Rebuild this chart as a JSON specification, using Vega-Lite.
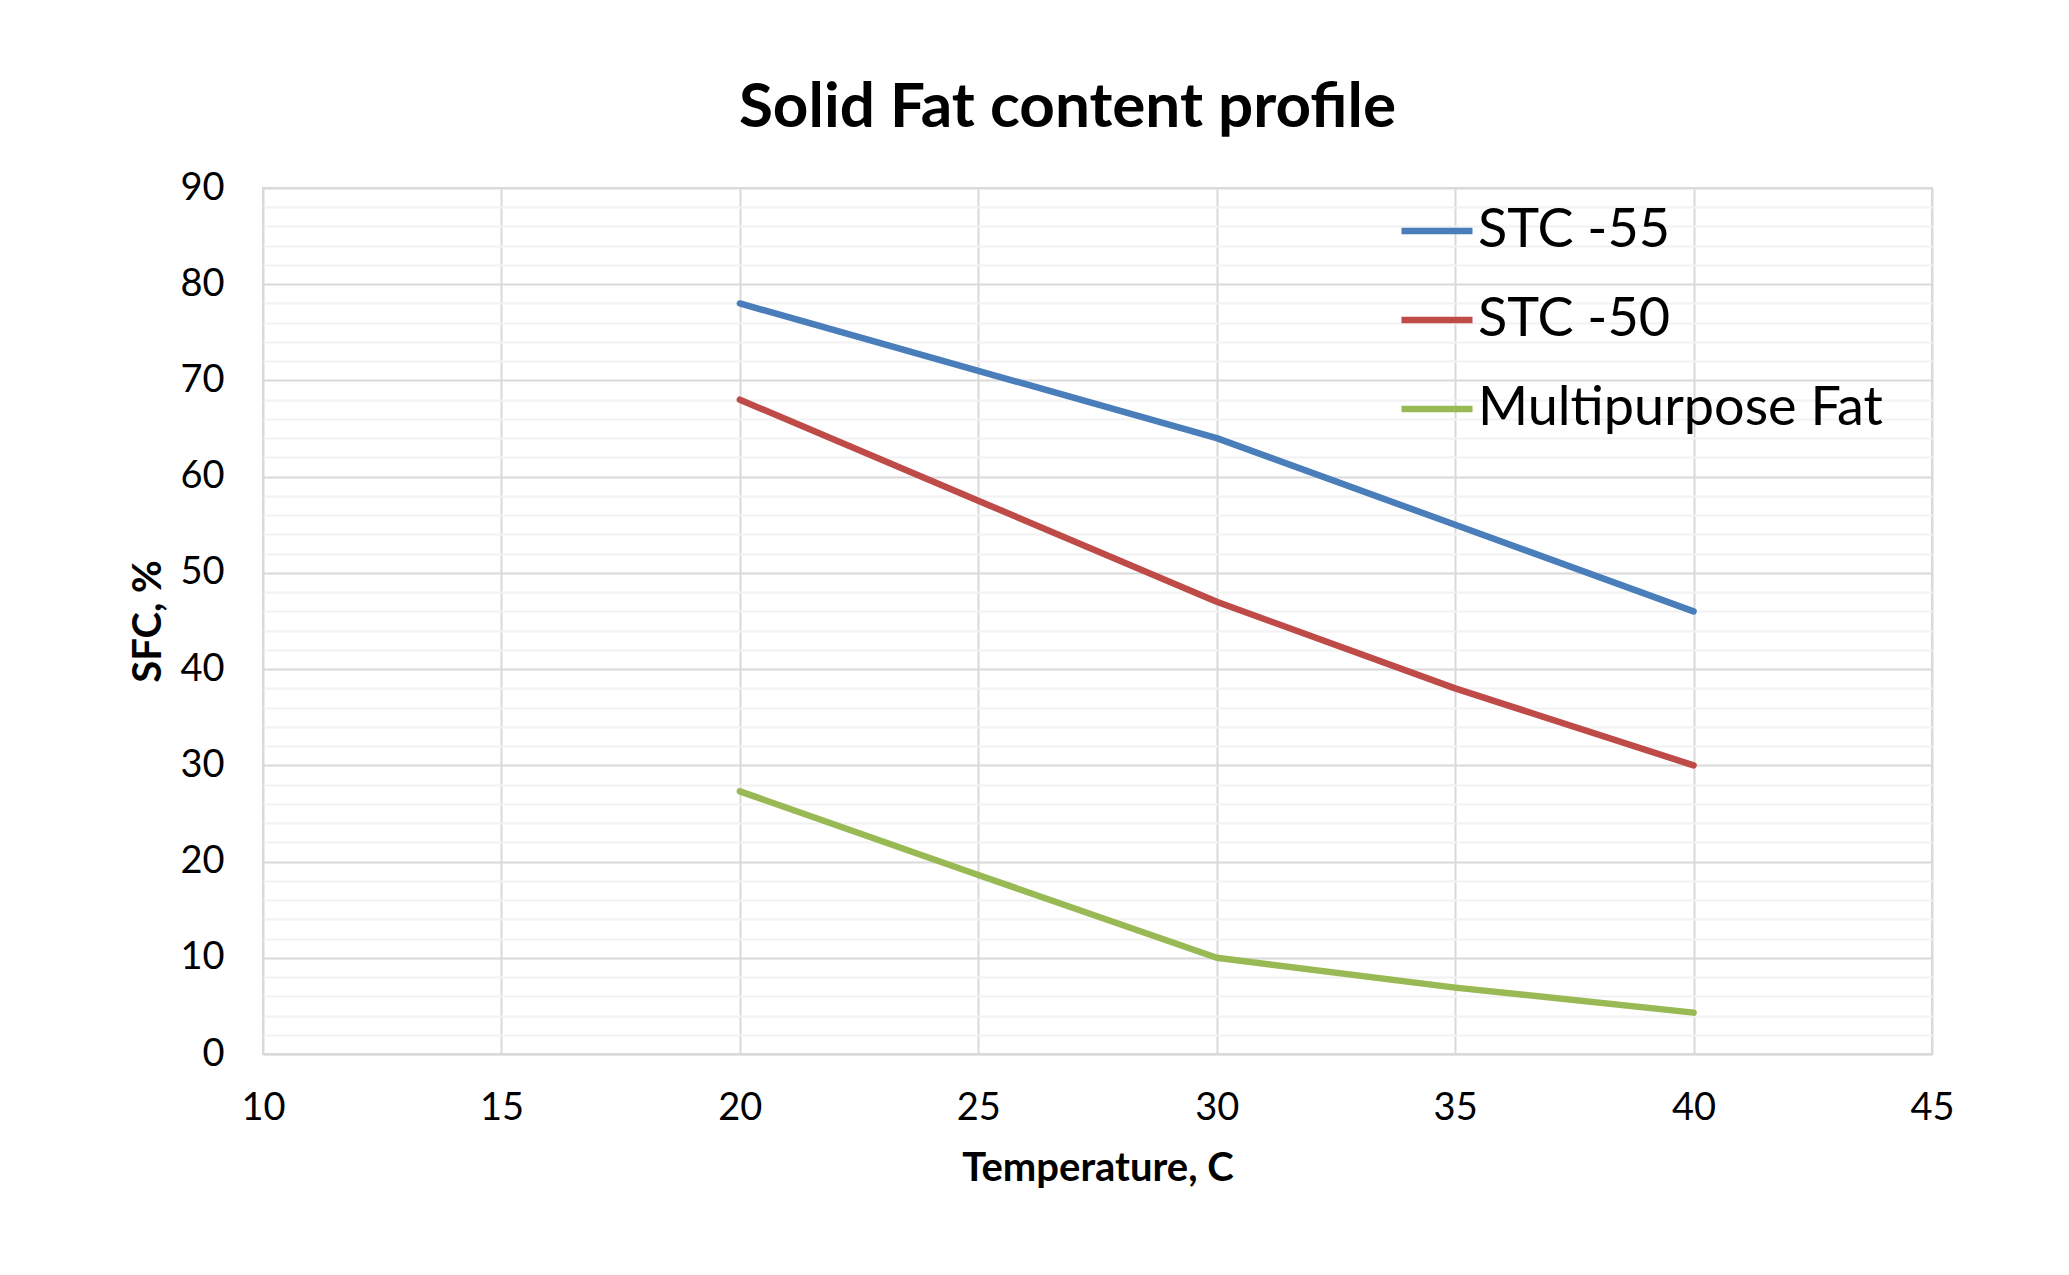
{
  "$schema": "https://vega.github.io/schema/vega-lite/v6.json",
  "autosize": {"type": "none"},
  "padding": {"left": 263, "top": 188, "right": 137, "bottom": 221},
  "width": 1669,
  "height": 866,
  "background": "white",
  "title": {
    "text": "Solid Fat content profile",
    "font": "Lato",
    "fontSize": 62,
    "fontWeight": "bold",
    "color": "#000000",
    "anchor": "middle",
    "dx": -30,
    "offset": 29
  },
  "data": {
    "values": [
      {"temp": 20, "sfc": 78, "series": "STC -55"},
      {"temp": 25, "sfc": 71, "series": "STC -55"},
      {"temp": 30, "sfc": 64, "series": "STC -55"},
      {"temp": 35, "sfc": 55, "series": "STC -55"},
      {"temp": 40, "sfc": 46, "series": "STC -55"},
      {"temp": 20, "sfc": 68, "series": "STC -50"},
      {"temp": 25, "sfc": 57.5, "series": "STC -50"},
      {"temp": 30, "sfc": 47, "series": "STC -50"},
      {"temp": 35, "sfc": 38, "series": "STC -50"},
      {"temp": 40, "sfc": 30, "series": "STC -50"},
      {"temp": 20, "sfc": 27.3, "series": "Multipurpose Fat"},
      {"temp": 25, "sfc": 18.6, "series": "Multipurpose Fat"},
      {"temp": 30, "sfc": 10, "series": "Multipurpose Fat"},
      {"temp": 35, "sfc": 6.9, "series": "Multipurpose Fat"},
      {"temp": 40, "sfc": 4.3, "series": "Multipurpose Fat"}
    ]
  },
  "mark": {"type": "line", "strokeWidth": 6.5, "strokeCap": "round", "strokeJoin": "round"},
  "encoding": {
    "x": {
      "field": "temp",
      "type": "quantitative",
      "title": "Temperature, C",
      "scale": {"domain": [10, 45], "nice": false, "zero": false},
      "axis": {
        "values": [10, 15, 20, 25, 30, 35, 40, 45],
        "grid": true,
        "gridColor": "#d9d9d9",
        "gridWidth": 2,
        "domainColor": "#d9d9d9",
        "domainWidth": 2,
        "ticks": false,
        "labelFlush": false,
        "labelOverlap": false,
        "labelFont": "Lato",
        "labelFontSize": 38,
        "labelColor": "#000000",
        "labelPadding": 35,
        "titleFont": "Lato",
        "titleFontSize": 40,
        "titleFontWeight": "bold",
        "titleColor": "#000000",
        "titlePadding": 21
      }
    },
    "y": {
      "field": "sfc",
      "type": "quantitative",
      "title": "SFC, %",
      "scale": {"domain": [0, 90], "nice": false},
      "axis": {
        "values": [0, 2, 4, 6, 8, 10, 12, 14, 16, 18, 20, 22, 24, 26, 28, 30, 32, 34, 36, 38, 40, 42, 44, 46, 48, 50, 52, 54, 56, 58, 60, 62, 64, 66, 68, 70, 72, 74, 76, 78, 80, 82, 84, 86, 88, 90],
        "labelExpr": "datum.value % 10 === 0 ? datum.label : ''",
        "labelOverlap": false,
        "grid": true,
        "gridColor": {"condition": {"test": "datum.value % 10 === 0", "value": "#d9d9d9"}, "value": "#f2f2f2"},
        "gridWidth": 2,
        "domain": false,
        "ticks": false,
        "labelFont": "Lato",
        "labelFontSize": 38,
        "labelColor": "#000000",
        "labelPadding": 39,
        "titleFont": "Lato",
        "titleFontSize": 40,
        "titleFontWeight": "bold",
        "titleColor": "#000000",
        "titlePadding": 11
      }
    },
    "color": {
      "field": "series",
      "type": "nominal",
      "scale": {
        "domain": ["STC -55", "STC -50", "Multipurpose Fat"],
        "range": ["#4a7ebb", "#be4b48", "#98b954"]
      },
      "legend": {
        "title": null,
        "orient": "none",
        "legendX": 1135,
        "legendY": 4,
        "symbolType": "stroke",
        "symbolSize": 5041,
        "symbolStrokeWidth": 6.5,
        "labelFont": "Lato",
        "labelFontSize": 54,
        "labelColor": "#000000",
        "labelOffset": 2,
        "rowPadding": 23,
        "labelLimit": 600
      }
    }
  },
  "config": {
    "view": {"stroke": "#d9d9d9", "strokeWidth": 2}
  }
}
